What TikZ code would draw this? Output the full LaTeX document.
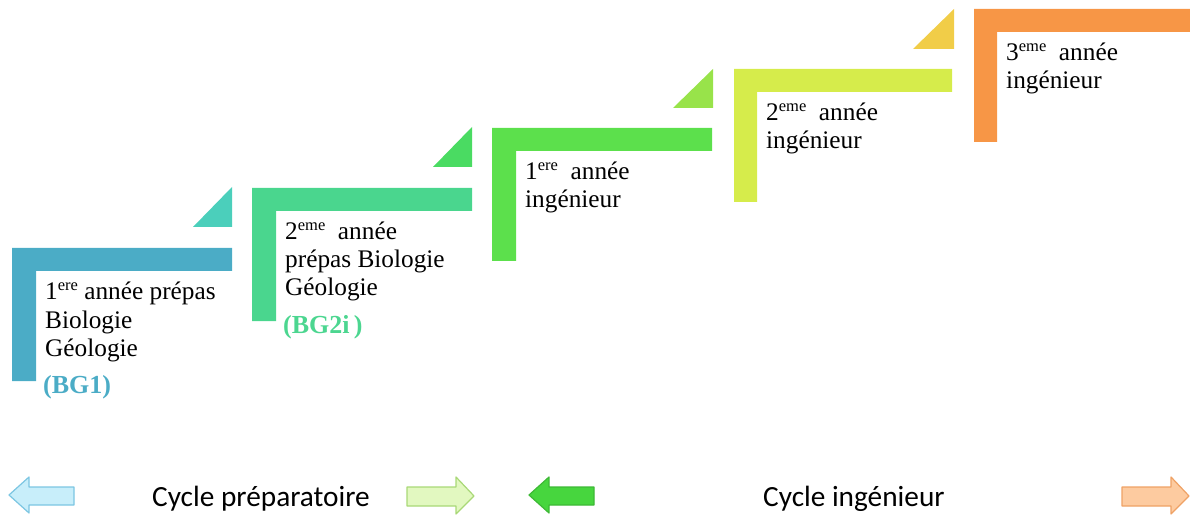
\documentclass[tikz,border=0pt]{standalone}
\usepackage{fontspec}
\setmainfont{Liberation Serif}
\newfontfamily\calfont{Carlito}
\definecolor{cA}{HTML}{4BACC6}
\definecolor{tA}{HTML}{4BCFBB}
\definecolor{cB}{HTML}{4AD68E}
\definecolor{tB}{HTML}{4ADB62}
\definecolor{cC}{HTML}{5CE04C}
\definecolor{tC}{HTML}{98E34A}
\definecolor{cD}{HTML}{D6EC4B}
\definecolor{tD}{HTML}{F1CD48}
\definecolor{cE}{HTML}{F79646}
\definecolor{bgB}{HTML}{4CD690}
\definecolor{arA}{HTML}{C8EEFA}
\definecolor{arAd}{HTML}{7CC6E2}
\definecolor{arB}{HTML}{E2F8C0}
\definecolor{arBd}{HTML}{A9D877}
\definecolor{arC}{HTML}{47D63E}
\definecolor{arCd}{HTML}{3DB935}
\definecolor{arD}{HTML}{FDCBA0}
\definecolor{arDd}{HTML}{EFA265}
\newcommand\myexp[1]{\raisebox{0.85ex}{\fontsize{16.5}{16.5}\selectfont #1}}
\tikzset{
  lbl/.style={anchor=base west, inner sep=0pt, font=\fontsize{25.3}{28}\selectfont},
  bglbl/.style={anchor=base west, inner sep=0pt, font=\fontsize{26}{30}\selectfont\bfseries},
  cyc/.style={anchor=base west, inner sep=0pt, font=\calfont\fontsize{29.3}{32}\selectfont},
  arr/.style={line width=1.2pt, line join=round}
}
\begin{document}
\begin{tikzpicture}[x=1pt,y=-1pt]
\useasboundingbox (0,0) rectangle (1190,518);
% L shapes
\fill[cA] (12,248) -- (232,248) -- (232,271) -- (36,271) -- (36,381) -- (12,381) -- cycle;
\fill[cB] (252,188) -- (472,188) -- (472,211) -- (276,211) -- (276,321) -- (252,321) -- cycle;
\fill[cC] (492,128) -- (712,128) -- (712,151) -- (516,151) -- (516,261) -- (492,261) -- cycle;
\fill[cD] (734,69) -- (952,69) -- (952,92) -- (757,92) -- (757,202) -- (734,202) -- cycle;
\fill[cE] (974,9) -- (1190,9) -- (1190,32) -- (997,32) -- (997,142) -- (974,142) -- cycle;
% triangles
\fill[tA] (193,227) -- (232,227) -- (232,187) -- cycle;
\fill[tB] (433,167) -- (472,167) -- (472,127) -- cycle;
\fill[tC] (673,108) -- (713,108) -- (713,69) -- cycle;
\fill[tD] (913,49) -- (954,49) -- (954,9) -- cycle;
% texts
\node[lbl] (a1) at (45,300) {1\myexp{ere} année prépas};
\node[lbl] (a2) at (45,328) {Biologie};
\node[lbl] (a3) at (45,356) {Géologie};
\node[bglbl, text=cA] (a4) at (43,393) {(BG1)};
\node[lbl] (b1) at (285,240) {2\myexp{eme}\ \ année};
\node[lbl] (b2) at (285,268) {prépas Biologie};
\node[lbl] (b3) at (285,296) {Géologie};
\node[bglbl, text=bgB] (b4) at (283,333) {(BG2i\,)};
\node[lbl] (c1) at (525,180) {1\myexp{ere}\ \ année};
\node[lbl] (c2) at (525,208) {ingénieur};
\node[lbl] (d1) at (766,121) {2\myexp{eme}\ \ année};
\node[lbl] (d2) at (766,149) {ingénieur};
\node[lbl] (e1) at (1006,61) {3\myexp{eme}\ \ année};
\node[lbl] (e2) at (1006,89) {ingénieur};
% bottom arrows
\draw[arr, draw=arAd, fill=arA] (9,495) -- (29,477) -- (29,487) -- (74,487) -- (74,505) -- (29,505) -- (29,513) -- cycle;
\draw[arr, draw=arBd, fill=arB] (407,487) -- (456,487) -- (456,477) -- (474,496) -- (456,514) -- (456,506) -- (407,506) -- cycle;
\draw[arr, draw=arCd, fill=arC] (529,495) -- (549,477) -- (549,487) -- (594,487) -- (594,505) -- (549,505) -- (549,513) -- cycle;
\draw[arr, draw=arDd, fill=arD] (1122,487) -- (1171,487) -- (1171,477) -- (1189,496) -- (1171,514) -- (1171,506) -- (1122,506) -- cycle;
\node[cyc] (cp) at (152,506) {Cycle préparatoire};
\node[cyc] (ci) at (763,506) {Cycle ingénieur};
\end{tikzpicture}
\end{document}
